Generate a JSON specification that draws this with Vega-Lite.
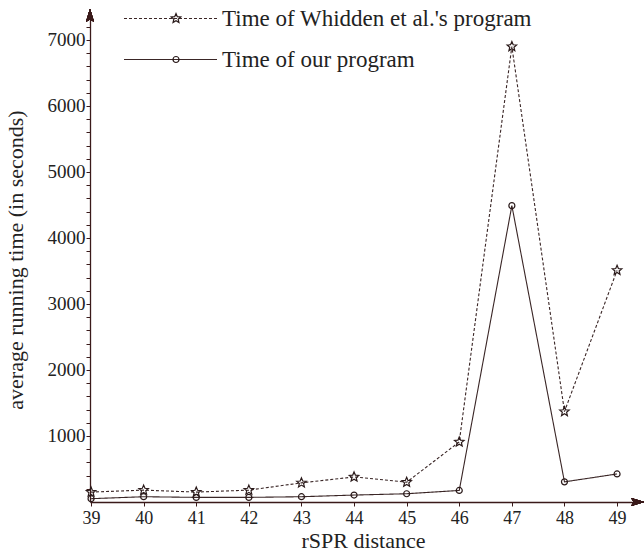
{
  "$schema": "https://vega.github.io/schema/vega-lite/v6.json",
  "width": 546,
  "height": 485,
  "autosize": {"type": "none"},
  "padding": {"left": 90, "top": 17, "right": 8, "bottom": 51},
  "background": "white",
  "config": {
    "view": {"stroke": null},
    "font": "Liberation Serif, Times New Roman, DejaVu Serif, serif",
    "axis": {
      "domainColor": "#3a1a1a",
      "domainWidth": 1.3,
      "tickColor": "#3a1a1a",
      "tickWidth": 1,
      "labelColor": "#222222",
      "titleColor": "#222222",
      "titleFontWeight": "normal",
      "grid": false
    }
  },
  "data": {
    "values": [
      {"d": 39, "t": 150, "series": "Time of Whidden et al.'s program", "marker": "star"},
      {"d": 40, "t": 180, "series": "Time of Whidden et al.'s program", "marker": "star"},
      {"d": 41, "t": 150, "series": "Time of Whidden et al.'s program", "marker": "star"},
      {"d": 42, "t": 180, "series": "Time of Whidden et al.'s program", "marker": "star"},
      {"d": 43, "t": 290, "series": "Time of Whidden et al.'s program", "marker": "star"},
      {"d": 44, "t": 380, "series": "Time of Whidden et al.'s program", "marker": "star"},
      {"d": 45, "t": 300, "series": "Time of Whidden et al.'s program", "marker": "star"},
      {"d": 46, "t": 910, "series": "Time of Whidden et al.'s program", "marker": "star"},
      {"d": 47, "t": 6900, "series": "Time of Whidden et al.'s program", "marker": "star"},
      {"d": 48, "t": 1370, "series": "Time of Whidden et al.'s program", "marker": "star"},
      {"d": 49, "t": 3510, "series": "Time of Whidden et al.'s program", "marker": "star"},
      {"d": 39, "t": 50, "series": "Time of our program", "marker": "circle"},
      {"d": 40, "t": 80, "series": "Time of our program", "marker": "circle"},
      {"d": 41, "t": 70, "series": "Time of our program", "marker": "circle"},
      {"d": 42, "t": 70, "series": "Time of our program", "marker": "circle"},
      {"d": 43, "t": 80, "series": "Time of our program", "marker": "circle"},
      {"d": 44, "t": 105, "series": "Time of our program", "marker": "circle"},
      {"d": 45, "t": 125, "series": "Time of our program", "marker": "circle"},
      {"d": 46, "t": 175, "series": "Time of our program", "marker": "circle"},
      {"d": 47, "t": 4490, "series": "Time of our program", "marker": "circle"},
      {"d": 48, "t": 305, "series": "Time of our program", "marker": "circle"},
      {"d": 49, "t": 425, "series": "Time of our program", "marker": "circle"}
    ]
  },
  "encoding": {
    "x": {
      "field": "d",
      "type": "quantitative",
      "scale": {"domain": [38.98, 49.36], "nice": false, "zero": false},
      "axis": {
        "title": "rSPR distance",
        "values": [39, 40, 41, 42, 43, 44, 45, 46, 47, 48, 49],
        "labelFont": "Liberation Serif, Times New Roman, DejaVu Serif, serif",
        "titleFont": "Liberation Serif, Times New Roman, DejaVu Serif, serif",
        "labelFontSize": 18,
        "titleFontSize": 22,
        "tickSize": 4,
        "labelPadding": 3,
        "titlePadding": 3,
        "labelFlush": false
      }
    },
    "y": {
      "field": "t",
      "type": "quantitative",
      "scale": {"domain": [0, 7348], "nice": false},
      "axis": {
        "title": "average running time (in seconds)",
        "values": [200, 400, 600, 800, 1000, 1200, 1400, 1600, 1800, 2000, 2200, 2400, 2600, 2800, 3000, 3200, 3400, 3600, 3800, 4000, 4200, 4400, 4600, 4800, 5000, 5200, 5400, 5600, 5800, 6000, 6200, 6400, 6600, 6800, 7000, 7200],
        "labelExpr": "datum.value % 1000 == 0 ? '' + datum.value : ''",
        "labelFont": "Liberation Serif, Times New Roman, DejaVu Serif, serif",
        "titleFont": "Liberation Serif, Times New Roman, DejaVu Serif, serif",
        "labelFontSize": 19,
        "titleFontSize": 22,
        "tickSize": 4,
        "labelPadding": 1,
        "titlePadding": 20,
        "labelOverlap": false
      }
    }
  },
  "layer": [
    {
      "mark": {"type": "line", "color": "#3a2626", "strokeWidth": 1.1},
      "encoding": {
        "strokeDash": {
          "field": "series",
          "type": "nominal",
          "scale": {
            "domain": ["Time of Whidden et al.'s program", "Time of our program"],
            "range": [[3, 2], [1, 0]]
          },
          "legend": {
            "title": null,
            "orient": "none",
            "legendX": 69,
            "legendY": -10,
            "padding": 0,
            "symbolType": "M-5,0H5",
            "symbolSize": 346,
            "symbolStrokeColor": "#3a2626",
            "symbolStrokeWidth": 1.1,
            "symbolFillColor": "transparent",
            "labelFont": "Liberation Serif, Times New Roman, DejaVu Serif, serif",
            "labelFontSize": 23,
            "labelColor": "#222222",
            "labelOffset": 40,
            "rowPadding": 17,
            "labelLimit": 500
          }
        }
      }
    },
    {
      "mark": {"type": "point", "filled": false, "color": "#2a1a1a", "strokeWidth": 1.2, "opacity": 1, "size": 64},
      "encoding": {
        "shape": {
          "field": "marker",
          "type": "nominal",
          "scale": {
            "domain": ["star", "circle"],
            "range": ["M0,-1.25L0.33,-0.455L1.19,-0.386L0.535,0.174L0.735,1.01L0,0.56L-0.735,1.01L-0.535,0.174L-1.19,-0.386L-0.33,-0.455Z", "M0.75,0A0.75,0.75 0 1,1 -0.75,0A0.75,0.75 0 1,1 0.75,0Z"]
          },
          "legend": {
            "title": null,
            "orient": "none",
            "legendX": 74.5,
            "legendY": -10,
            "padding": 0,
            "symbolSize": 64,
            "symbolFillColor": "white",
            "symbolStrokeWidth": 1.2,
            "symbolOpacity": 1,
            "labelFont": "Liberation Serif, Times New Roman, DejaVu Serif, serif",
            "labelFontSize": 23,
            "labelExpr": "''",
            "rowPadding": 17
          }
        }
      }
    },
    {
      "mark": {"type": "point", "filled": true, "color": "#3a1a1a", "opacity": 1, "size": 256, "shape": "M0,-1L0.5,0.6L0,0.3L-0.5,0.6Z"},
      "encoding": {
        "x": {"datum": 38.98, "type": "quantitative"},
        "y": {"datum": 7348, "type": "quantitative"}
      }
    },
    {
      "mark": {"type": "point", "filled": true, "color": "#3a1a1a", "opacity": 1, "size": 256, "shape": "M1,0L-0.6,0.5L-0.3,0L-0.6,-0.5Z"},
      "encoding": {
        "x": {"datum": 49.36, "type": "quantitative"},
        "y": {"datum": 0, "type": "quantitative"}
      }
    }
  ]
}
